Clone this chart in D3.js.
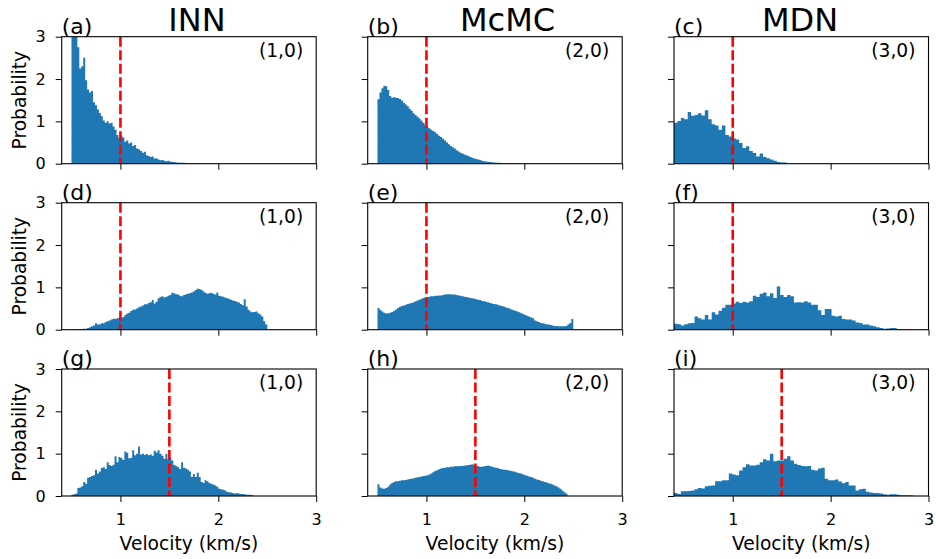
<!DOCTYPE html>
<html>
<head>
<meta charset="utf-8">
<script src="https://cdnjs.cloudflare.com/ajax/libs/d3/7.8.5/d3.min.js"></script>
<style>
  body { margin: 0; background: #fff; }
  svg { font-family: "DejaVu Sans", sans-serif; }
</style>
</head>
<body>
<script>
// column titles, panel letters, annotation per column
var methods = ["INN", "McMC", "MDN"];
var letters = [["(a)", "(b)", "(c)"], ["(d)", "(e)", "(f)"], ["(g)", "(h)", "(i)"]];
var modes = ["(1,0)", "(2,0)", "(3,0)"];
var trueVelocity = [1, 1, 1.5];   // red dashed line, per row
var xTicks = [1, 2, 3];
var yTicks = [0, 1, 2, 3];

// histogram bins: first left edge per panel (row x column) and bin width per column
var binStart = [[0.5, 0.5, 0.4], [0.56, 0.5, 0.4], [0.5, 0.5, 0.4]];
var binWidth = [0.02, 0.02, 0.035];

// row 1
var innA = [3.3,3.2,3.1,2.75,2.25,2.3,2.5,1.97,1.75,1.68,1.72,1.45,1.38,1.28,1.2,1.12,1.02,0.97,1.0,0.95,
  0.97,0.88,0.8,0.68,0.6,0.66,0.62,0.52,0.55,0.48,0.5,0.42,0.44,0.36,0.34,0.3,0.26,0.28,0.2,0.18,
  0.16,0.17,0.12,0.13,0.1,0.08,0.09,0.07,0.06,0.07,0.05,0.04,0.04,0.03,0.03,0.02,0.02,0.02,0.01,0.015,
  0.01,0.01,0.008,0.005,0.005];
var mcmcB = [1.52,1.68,1.78,1.84,1.83,1.74,1.6,1.56,1.57,1.56,1.55,1.53,1.49,1.44,1.4,1.36,1.3,1.25,1.19,1.15,
  1.11,1.07,1.02,0.97,0.91,0.87,0.84,0.8,0.77,0.74,0.7,0.66,0.63,0.59,0.55,0.5,0.46,0.42,0.39,0.36,
  0.32,0.29,0.26,0.24,0.22,0.2,0.18,0.16,0.14,0.12,0.11,0.1,0.09,0.07,0.06,0.05,0.045,0.04,0.035,0.03,
  0.025,0.02,0.02,0.015,0.012,0.01,0.01,0.008,0.007,0.006,0.005,0.004,0.003];
var mdnC = [0.97,1.01,1.08,1.05,1.22,1.13,1.15,1.19,1.14,1.26,1.05,0.93,0.9,0.8,0.9,0.68,0.64,0.6,0.57,0.49,
  0.37,0.41,0.3,0.25,0.17,0.24,0.16,0.13,0.1,0.07,0.04,0.03,0.03];

// row 2
var innD = [0.01,0.01,0.015,0.02,0.02,0.04,0.06,0.08,0.1,0.15,0.12,0.13,0.15,0.15,0.18,0.2,0.22,0.24,0.26,0.25,
  0.27,0.28,0.27,0.3,0.35,0.38,0.4,0.44,0.47,0.48,0.5,0.53,0.55,0.57,0.6,0.6,0.63,0.65,0.7,0.62,
  0.66,0.74,0.77,0.79,0.76,0.78,0.8,0.82,0.87,0.86,0.84,0.83,0.8,0.79,0.82,0.84,0.85,0.86,0.88,0.9,
  0.94,0.97,0.96,0.94,0.9,0.87,0.85,0.86,0.87,0.85,0.83,0.88,0.8,0.79,0.78,0.76,0.74,0.73,0.71,0.69,
  0.68,0.66,0.64,0.61,0.58,0.72,0.55,0.47,0.43,0.41,0.42,0.43,0.39,0.36,0.31,0.2,0.12];
var mcmcE = [0.51,0.47,0.43,0.4,0.38,0.39,0.4,0.42,0.45,0.48,0.51,0.54,0.56,0.57,0.59,0.61,0.62,0.63,0.65,0.67,
  0.69,0.71,0.73,0.75,0.76,0.77,0.78,0.79,0.79,0.8,0.8,0.81,0.81,0.82,0.83,0.84,0.84,0.84,0.83,0.83,
  0.82,0.81,0.8,0.79,0.78,0.77,0.76,0.75,0.74,0.73,0.72,0.71,0.7,0.68,0.67,0.66,0.65,0.63,0.62,0.61,
  0.6,0.59,0.57,0.56,0.55,0.53,0.51,0.5,0.48,0.46,0.45,0.43,0.41,0.39,0.37,0.35,0.33,0.31,0.29,0.27,
  0.22,0.2,0.18,0.16,0.15,0.14,0.13,0.12,0.11,0.1,0.09,0.09,0.08,0.08,0.08,0.08,0.09,0.12,0.16,0.25];
var mdnF = [0.14,0.13,0.1,0.13,0.15,0.16,0.31,0.27,0.24,0.35,0.24,0.41,0.36,0.45,0.52,0.59,0.59,0.62,0.66,0.63,
  0.66,0.64,0.67,0.8,0.77,0.85,0.88,0.79,0.86,0.75,1.02,0.82,0.77,0.82,0.79,0.64,0.65,0.64,0.67,0.64,
  0.59,0.59,0.46,0.35,0.49,0.49,0.33,0.31,0.33,0.25,0.24,0.24,0.22,0.17,0.16,0.12,0.12,0.1,0.08,0.06,
  0.04,0.02,0.03,0.04,0.04,0.015,0.015,0.01,0.01];

// row 3
var innG = [0.03,0.04,0.06,0.19,0.2,0.23,0.33,0.29,0.43,0.45,0.47,0.49,0.62,0.53,0.58,0.66,0.68,0.64,0.8,0.73,
  0.71,0.74,0.94,0.8,0.92,0.9,0.85,1.05,1.02,0.89,0.9,1.08,0.96,1.0,1.17,0.98,1.0,0.97,0.99,0.96,
  0.98,0.95,1.07,1.03,1.08,1.0,0.95,0.88,1.0,0.87,0.9,0.84,0.73,0.71,0.68,0.64,0.8,0.67,0.65,0.62,
  0.58,0.45,0.52,0.45,0.55,0.45,0.33,0.31,0.37,0.35,0.31,0.29,0.27,0.25,0.22,0.17,0.16,0.15,0.13,0.1,
  0.09,0.08,0.07,0.06,0.07,0.06,0.05,0.05,0.04,0.03,0.03,0.03,0.02];
var mcmcH = [0.28,0.2,0.18,0.17,0.19,0.22,0.27,0.31,0.33,0.35,0.35,0.36,0.37,0.37,0.38,0.39,0.4,0.41,0.42,0.43,
  0.44,0.45,0.46,0.47,0.48,0.49,0.51,0.53,0.56,0.59,0.61,0.63,0.65,0.66,0.67,0.68,0.68,0.69,0.69,0.7,
  0.7,0.7,0.71,0.71,0.72,0.72,0.73,0.74,0.75,0.73,0.71,0.7,0.69,0.69,0.7,0.71,0.72,0.71,0.69,0.68,
  0.67,0.66,0.64,0.63,0.62,0.62,0.61,0.6,0.59,0.58,0.57,0.55,0.54,0.53,0.51,0.49,0.48,0.46,0.45,0.43,
  0.41,0.39,0.38,0.36,0.35,0.33,0.32,0.3,0.29,0.27,0.25,0.23,0.2,0.17,0.13,0.09,0.06];
var mdnI = [0.07,0.05,0.11,0.11,0.12,0.13,0.16,0.19,0.18,0.23,0.24,0.25,0.35,0.35,0.37,0.37,0.53,0.51,0.49,0.6,
  0.68,0.75,0.72,0.72,0.74,0.8,0.87,0.84,1.0,0.82,0.84,0.84,0.88,0.94,0.84,0.76,0.73,0.71,0.7,0.71,
  0.62,0.6,0.65,0.67,0.41,0.37,0.37,0.39,0.34,0.3,0.33,0.25,0.25,0.13,0.16,0.17,0.1,0.08,0.07,0.07,
  0.06,0.04,0.03,0.04,0.04,0.03,0.02,0.015,0.015,0.01];

var hists = [[innA, mcmcB, mdnC], [innD, mcmcE, mdnF], [innG, mcmcH, mdnI]];

// layout
var colX = [61.7, 367.7, 674], rowY = [36.7, 202.7, 369];
var pw = 254.5, ph = 127;

var svg = d3.select("body").append("svg")
    .attr("width", 936)
    .attr("height", 559);

var x = d3.scaleLinear().domain([0.4, 3]).range([0, pw]);
var y = d3.scaleLinear().domain([0, 3]).range([ph, 0]);

var area = d3.area()
    .x(function(d) { return x(d[0]); })
    .y0(y(0))
    .y1(function(d) { return y(d[1]); })
    .curve(d3.curveStepAfter);

hists.forEach(function(row, r) {
  row.forEach(function(vals, c) {
    var g = svg.append("g").attr("transform", "translate(" + colX[c] + "," + rowY[r] + ")");
    var id = "clip" + r + c;
    g.append("clipPath").attr("id", id)
      .append("rect").attr("width", pw).attr("height", ph);

    // step outline of the histogram (bin edges -> heights)
    var start = binStart[r][c], w = binWidth[c];
    var pts = vals.map(function(v, i) { return [start + i * w, v]; });
    pts.push([start + vals.length * w, vals[vals.length - 1]]);

    g.append("path")
      .datum(pts)
      .attr("clip-path", "url(#" + id + ")")
      .attr("fill", "#1f77b4")
      .attr("d", area);

    g.append("line")
      .attr("x1", x(trueVelocity[r])).attr("x2", x(trueVelocity[r]))
      .attr("y1", 0).attr("y2", ph)
      .attr("stroke", "#ff0000")
      .attr("stroke-width", 2.6)
      .attr("stroke-dasharray", "10,3.5");

    // axes
    var xa = g.append("g")
      .attr("transform", "translate(0," + ph + ")")
      .call(d3.axisBottom(x).tickValues(xTicks).tickSize(6).tickPadding(12)
        .tickFormat(r === 2 ? d3.format("d") : ""));
    var ya = g.append("g")
      .call(d3.axisLeft(y).tickValues(yTicks).tickSize(6).tickPadding(10)
        .tickFormat(c === 0 ? d3.format("d") : ""));
    [xa, ya].forEach(function(a) {
      a.select(".domain").remove();
      a.attr("font-family", null).attr("font-size", 16);
      a.selectAll("line").attr("stroke", "#000").attr("stroke-width", 1);
      a.selectAll("text").attr("fill", "#000");
    });

    g.append("rect")
      .attr("width", pw).attr("height", ph)
      .attr("fill", "none")
      .attr("stroke", "#000")
      .attr("stroke-width", 1.1);

    g.append("text")
      .attr("x", 0).attr("y", -3)
      .attr("font-size", 22)
      .text(letters[r][c]);

    g.append("text")
      .attr("x", pw - 13).attr("y", 20)
      .attr("text-anchor", "end")
      .attr("font-size", 18.67)
      .text(modes[c]);

    if (c === 0) {
      g.append("text")
        .attr("transform", "translate(" + (26 - colX[0]) + "," + ph / 2 + ") rotate(-90)")
        .attr("text-anchor", "middle")
        .attr("font-size", 18.67)
        .text("Probability");
    }
    if (r === 2) {
      g.append("text")
        .attr("x", pw / 2).attr("y", ph + 53.5)
        .attr("text-anchor", "middle")
        .attr("font-size", 18.67)
        .text("Velocity (km/s)");
    }
  });
});

// column titles
var titleX = [197, 507.5, 800];
svg.selectAll(".title")
  .data(methods)
  .enter().append("text")
    .attr("class", "title")
    .attr("x", function(d, i) { return titleX[i]; })
    .attr("y", 30.7)
    .attr("text-anchor", "middle")
    .attr("font-size", 32)
    .text(function(d) { return d; });
</script>
</body>
</html>
